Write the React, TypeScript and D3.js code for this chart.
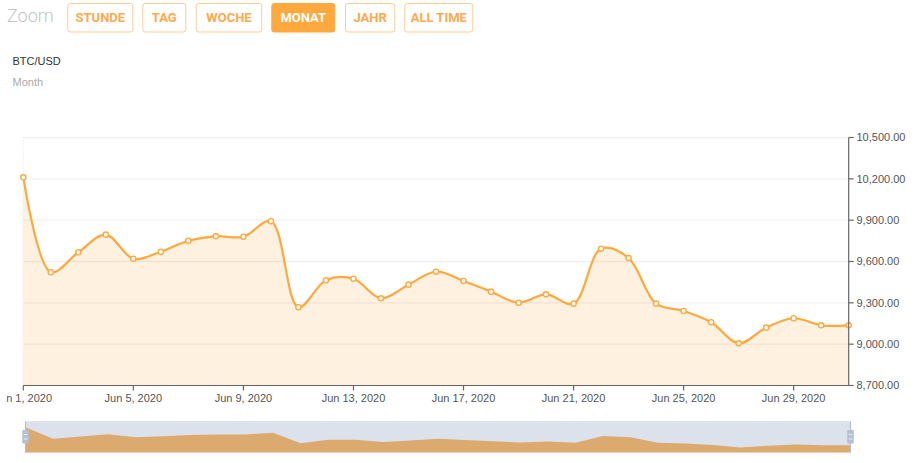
import React from "react";
import * as d3 from "d3";

const dates: string[] = [
  "2020-06-01","2020-06-02","2020-06-03","2020-06-04","2020-06-05","2020-06-06","2020-06-07","2020-06-08",
  "2020-06-09","2020-06-10","2020-06-11","2020-06-12","2020-06-13","2020-06-14","2020-06-15","2020-06-16",
  "2020-06-17","2020-06-18","2020-06-19","2020-06-20","2020-06-21","2020-06-22","2020-06-23","2020-06-24",
  "2020-06-25","2020-06-26","2020-06-27","2020-06-28","2020-06-29","2020-06-30","2020-07-01",
];
const prices: number[] = [
  10211, 9522, 9667, 9795, 9620, 9671, 9751, 9783, 9780, 9892, 9268, 9464, 9475, 9333, 9432, 9526,
  9459, 9381, 9301, 9362, 9294, 9693, 9625, 9294, 9241, 9159, 9006, 9120, 9188, 9137, 9137,
];
const yTicks: number[] = [8700, 9000, 9300, 9600, 9900, 10200, 10500];
const xTickDates: string[] = ["2020-06-01","2020-06-05","2020-06-09","2020-06-13","2020-06-17","2020-06-21","2020-06-25","2020-06-29"];
const zoomButtons: string[] = ["STUNDE", "TAG", "WOCHE", "MONAT", "JAHR", "ALL TIME"];
const activeButton = "MONAT";

const W = 920, H = 463;
const ORANGE = "#ffa83d";
const FONT = "'Liberation Sans', Arial, sans-serif";

export default function App() {
  const parse = d3.utcParse("%Y-%m-%d");
  const data = dates.map((d, i) => ({ date: parse(d) as Date, value: prices[i] }));

  const x = d3.scaleUtc().domain([data[0].date, data[data.length - 1].date]).range([23.3, 848.7]);
  const y = d3.scaleLinear().domain([8700, 10500]).range([385.5, 137.5]);

  const curve = d3.curveCatmullRom.alpha(0.5);
  const line = d3.line<any>().x(d => x(d.date)).y(d => y(d.value)).curve(curve);
  const area = d3.area<any>().x(d => x(d.date)).y0(y(8700)).y1(d => y(d.value)).curve(curve);

  const mx = d3.scaleUtc().domain(x.domain()).range([25.5, 850.5]);
  const my = d3.scaleLinear().domain([8700, 10500]).range([452.7, 422.4]);
  const miniArea = d3.area<any>().x(d => mx(d.date)).y0(my(8700)).y1(d => my(d.value));

  const fmtY = d3.format(",.2f");
  const fmtX = d3.utcFormat("%b %-d, %Y");

  const btnX = [67.3, 142.3, 195.7, 271.3, 345, 404.3];
  const btnW = [66, 44, 66.6, 64, 50.3, 69];

  return (
    <svg width={W} height={H} style={{ position: "absolute", left: 0, top: 0, background: "#fff" }}>
      <defs>
        <clipPath id="labelClip">
          <rect x={7} y={0} width={W - 7} height={H} />
        </clipPath>
      </defs>
      {/* Zoom controls */}
      <text x={7} y={22} fontFamily="Roboto, sans-serif" fontWeight={300} fontSize={18} fill="#c4c4c4">Zoom</text>
      {zoomButtons.map((b, i) => {
        const active = b === activeButton;
        return (
          <g key={b}>
            <rect x={btnX[i] + 0.5} y={3.5} width={btnW[i] - 1} height={28.5} rx={2.5}
              fill={active ? ORANGE : "#fff"} stroke={active ? ORANGE : "#ffcc94"} strokeWidth={1} />
            <text x={btnX[i] + btnW[i] / 2} y={22.3} textAnchor="middle" fontFamily="Roboto, sans-serif"
              fontWeight={700} fontSize={13} fill={active ? "#fff" : "#ffa94d"}>{b}</text>
          </g>
        );
      })}

      {/* titles */}
      <text x={12.5} y={65} fontFamily={FONT} fontSize={11} fill="#333">BTC/USD</text>
      <text x={12.5} y={86} fontFamily={FONT} fontSize={11} fill="#aaa">Month</text>

      {/* plot */}
      <path d={area(data) as string} fill="#fef1e0" />
      {yTicks.map(t => (
        <line key={t} x1={23.3} x2={848.7} y1={y(t)} y2={y(t)} stroke="#000" strokeOpacity={0.06} strokeWidth={1.3} />
      ))}
      <line x1={23.3} x2={23.3} y1={137.5} y2={385.5} stroke="#e8e2da" strokeDasharray="1,2" />
      <path d={line(data) as string} fill="none" stroke={ORANGE} strokeWidth={2.2} />
      {data.map((d, i) => (
        <circle key={i} cx={x(d.date)} cy={y(d.value)} r={2.6} fill="#fff" stroke={ORANGE} strokeWidth={1.4} />
      ))}

      {/* x axis */}
      <line x1={23.3} x2={848.7} y1={385.5} y2={385.5} stroke="#666" strokeWidth={1.2} />
      <g clipPath="url(#labelClip)">
        {xTickDates.map(s => {
          const d = parse(s) as Date;
          return (
            <g key={s}>
              <line x1={x(d)} x2={x(d)} y1={385.5} y2={390.5} stroke="#666" strokeWidth={1.2} />
              <text x={x(d)} y={402} textAnchor="middle" fontFamily={FONT} fontSize={11} fill="#555">{fmtX(d)}</text>
            </g>
          );
        })}
      </g>

      {/* right y axis */}
      <line x1={848.7} x2={848.7} y1={137.5} y2={385.5} stroke="#666" strokeWidth={1.2} />
      {yTicks.map(t => (
        <g key={t}>
          <line x1={848.7} x2={853.7} y1={y(t)} y2={y(t)} stroke="#666" strokeWidth={1.2} />
          <text x={856.5} y={y(t)} dy="0.35em" fontFamily={FONT} fontSize={11} fill="#555">{fmtY(t)}</text>
        </g>
      ))}

      {/* scrollbar */}
      <rect x={25.5} y={421.5} width={825} height={31.2} fill="#dce2eb" />
      <path d={miniArea(data) as string} fill="#dcaa6f" />
      <line x1={25.5} x2={850.5} y1={452.7} y2={452.7} stroke="#e6ddd0" strokeWidth={1} />
      <line x1={25.5} x2={850.5} y1={421.5} y2={421.5} stroke="#cfd6e2" strokeDasharray="1,1" />
      {[25.5, 850.5].map((gx, i) => (
        <g key={i}>
          <line x1={gx} x2={gx} y1={421.5} y2={452.7} stroke="#b5c0d3" strokeWidth={1.2} />
          <rect x={gx - 3.3} y={430} width={6.6} height={13.5} rx={1} fill="#b5c0d3" />
          <line x1={gx - 1.8} x2={gx + 1.8} y1={434.5} y2={434.5} stroke="#e8edf4" strokeWidth={1} />
          <line x1={gx - 1.8} x2={gx + 1.8} y1={439} y2={439} stroke="#e8edf4" strokeWidth={1} />
        </g>
      ))}
    </svg>
  );
}
